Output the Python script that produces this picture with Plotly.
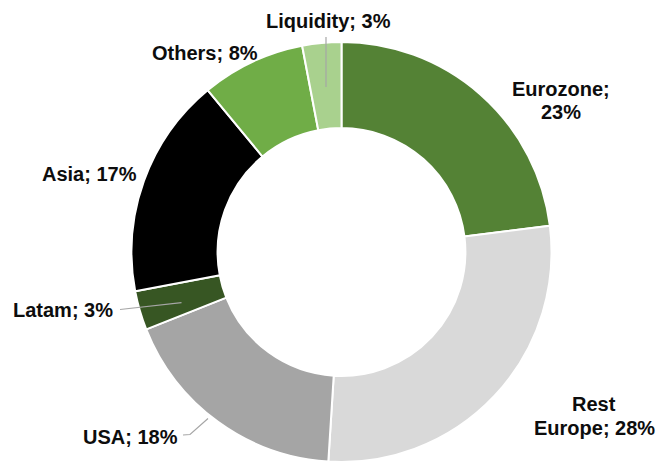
import plotly.graph_objects as go

# ---- data ----
regions = ["Eurozone", "Rest Europe", "USA", "Latam", "Asia", "Others", "Liquidity"]
shares = [23, 28, 18, 3, 17, 8, 3]
colors = ["#548235", "#D9D9D9", "#A5A5A5", "#375623", "#000000", "#70AD47", "#A9D18E"]

W, H = 658, 462
LINE_GAP = 23.5

# label placement (pixel centre of the first line in the picture), and line breaks
label_pos = {
    "Eurozone": (561, 88.5),
    "Rest Europe": (594, 404),
    "USA": (130, 437),
    "Latam": (63, 309.5),
    "Asia": (89.5, 174),
    "Others": (205, 52.5),
    "Liquidity": (328.5, 20.5),
}
label_break = {"Eurozone": "Eurozone;|{v}%", "Rest Europe": "Rest|Europe; {v}%"}

# leader lines (pixel coordinates)
leaders = [
    [(326, 37), (326, 87)],
    [(120, 309.5), (181.5, 302.7)],
    [(183, 435), (190, 434.5), (208, 418.5)],
]


def px(x):
    return x / W


def py(y):
    return 1 - y / H


fig = go.Figure(
    go.Pie(
        labels=regions,
        values=shares,
        marker=dict(colors=colors, line=dict(color="white", width=2)),
        hole=0.59,
        sort=False,
        direction="clockwise",
        rotation=0,
        textinfo="none",
        hoverinfo="label+percent",
        domain=dict(x=[px(341.5 - 210), px(341.5 + 210)], y=[0, 420 / H]),
        showlegend=False,
    )
)

annotations = []
for name, v in zip(regions, shares):
    x, y = label_pos[name]
    text = label_break.get(name, "{n}; {v}%").format(n=name, v=v)
    for i, line in enumerate(text.split("|")):
        annotations.append(
            dict(
                x=px(x), y=py(y + i * LINE_GAP), xref="paper", yref="paper",
                text="<b>" + line + "</b>",
                showarrow=False,
                xanchor="center", yanchor="middle", align="center",
                font=dict(family="Liberation Sans, Arial, sans-serif", size=20, color="#0d0d0d"),
            )
        )

shapes = []
for pts in leaders:
    path = "M " + " L ".join(f"{px(a)},{py(b)}" for a, b in pts)
    shapes.append(
        dict(type="path", path=path, xref="paper", yref="paper",
             line=dict(color="#A6A6A6", width=1.2))
    )

fig.update_layout(
    width=W, height=H,
    margin=dict(l=0, r=0, t=0, b=0),
    paper_bgcolor="white", plot_bgcolor="white",
    annotations=annotations,
    shapes=shapes,
)

fig.write_html(
    "out.html",
    config={"displayModeBar": False},
    post_script="document.body.style.margin='0';",
)
